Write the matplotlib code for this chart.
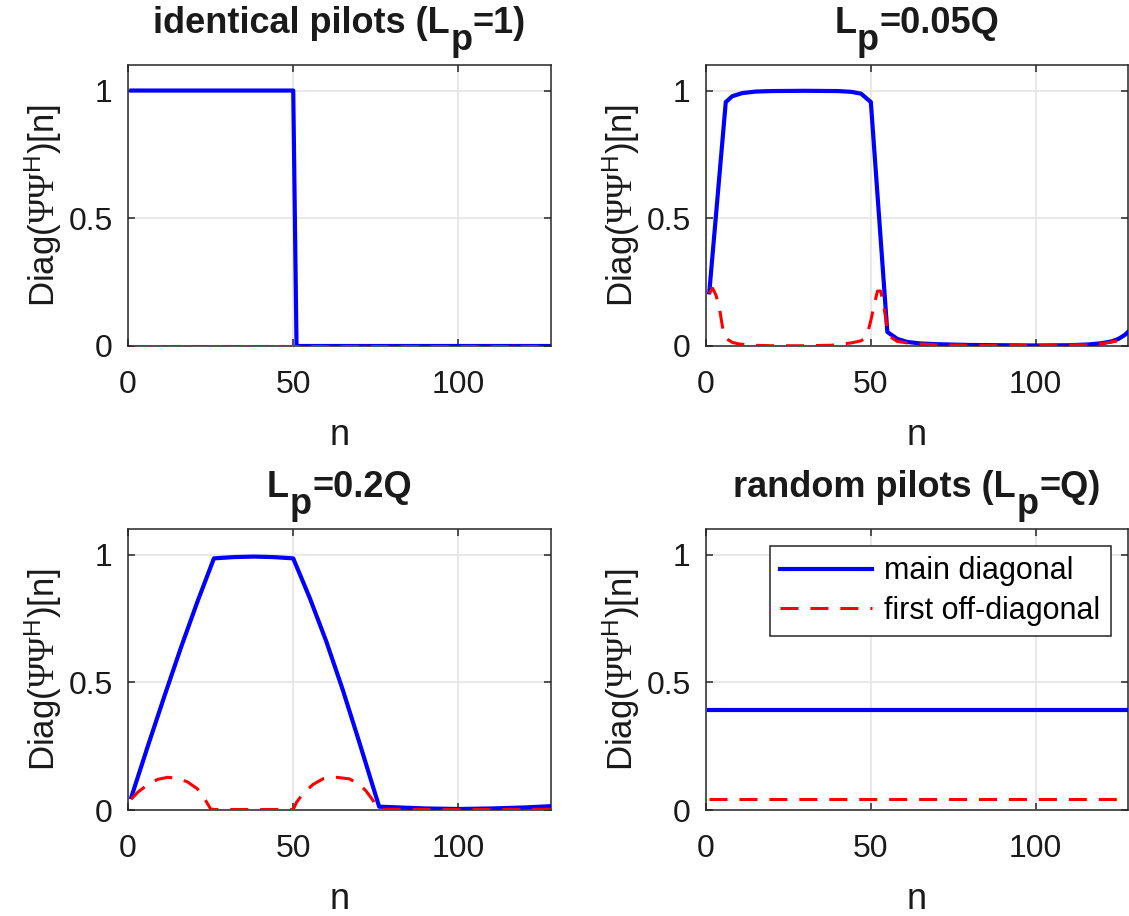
import matplotlib
matplotlib.use("Agg")
import matplotlib.pyplot as plt

plt.rcParams['font.family'] = ['Liberation Sans', 'DejaVu Sans']
plt.rcParams['mathtext.fontset'] = 'custom'
plt.rcParams['mathtext.rm'] = 'Liberation Serif'
plt.rcParams['mathtext.sf'] = 'Liberation Sans'
plt.rcParams['mathtext.bf'] = 'Liberation Sans:bold'
plt.rcParams['mathtext.it'] = 'Liberation Sans:italic'

# identical pilots (Lp = 1)
n_ident = [1, 50, 51, 128]
main_ident = [1, 1, 0, 0]
off_ident = [0, 0, 0, 0]

# Lp = 0.05Q
n_005 = [1, 6, 8, 11, 15, 20, 30, 40, 44, 47, 50, 55, 58, 61, 65, 70, 80, 90,
         100, 110, 116, 120, 123, 125, 127, 128]
main_005 = [0.21, 0.955, 0.978, 0.99, 0.996, 0.998, 0.999, 0.998, 0.995, 0.988,
            0.955, 0.055, 0.028, 0.016, 0.010, 0.007, 0.004, 0.003, 0.002, 0.003,
            0.006, 0.011, 0.018, 0.027, 0.043, 0.055]
n_005_off = [1, 2, 3, 4, 5, 6, 8, 10, 14, 20, 30, 38, 44, 47, 48, 49, 50, 51, 52,
             53, 54, 55, 56, 58, 61, 65, 70, 80, 100, 116, 120, 124, 128]
off_005 = [0.206, 0.226, 0.2, 0.154, 0.075, 0.03, 0.014, 0.008, 0.003, 0.001,
           0.001, 0.003, 0.012, 0.02, 0.029, 0.05, 0.1, 0.16, 0.215, 0.215, 0.15,
           0.07, 0.035, 0.018, 0.012, 0.008, 0.005, 0.003, 0.002, 0.005, 0.009,
           0.018, 0.03]

# Lp = 0.2Q
n_02 = [1, 6, 11, 16, 21, 26, 32, 38, 44, 50, 55, 60, 65, 70, 76, 90, 100, 110,
        120, 128]
main_02 = [0.05, 0.25, 0.445, 0.635, 0.815, 0.985, 0.99, 0.992, 0.99, 0.985,
           0.83, 0.66, 0.47, 0.265, 0.013, 0.006, 0.004, 0.006, 0.01, 0.015]
n_02_off = [1, 3, 6, 9, 12, 15, 18, 21, 23.5, 25, 26, 50, 51, 53, 56, 59, 63, 67,
            70, 72, 74, 75.5, 77, 90, 100, 110, 128]
off_02 = [0.043, 0.07, 0.10, 0.12, 0.128, 0.124, 0.11, 0.083, 0.037, 0.004,
          0.002, 0.002, 0.03, 0.065, 0.1, 0.122, 0.128, 0.122, 0.1, 0.075, 0.04,
          0.01, 0.003, 0.002, 0.002, 0.002, 0.003]

# random pilots (Lp = Q)
n_rand = [1, 128]
main_rand = [0.39, 0.39]
off_rand = [0.045, 0.045]

# title pieces: text before subscript, subscript, text after
titles = [('identical pilots (L', 'p', '=1)'), ('L', 'p', '=0.05Q'),
          ('L', 'p', '=0.2Q'), ('random pilots (L', 'p', '=Q)')]
panels = [(n_ident, main_ident, n_ident, off_ident),
          (n_005, main_005, n_005_off, off_005),
          (n_02, main_02, n_02_off, off_02),
          (n_rand, main_rand, n_rand, off_rand)]

W, H = 1129, 916
fig = plt.figure(figsize=(W / 100, H / 100), dpi=100)
# axes boxes in pixels: left, top, right, bottom
boxes = [(128, 65, 551, 346), (706, 65, 1128, 346),
         (128, 529, 551, 810), (706, 529, 1128, 810)]

fs = 22
tfs = 26
ink = '#1a1a1a'
title_parts = []
axes = []
for i, (l, t, r, b) in enumerate(boxes):
    ax = fig.add_axes([l / W, 1 - b / H, (r - l) / W, (b - t) / H])
    axes.append(ax)
    nm, ym, no, yo = panels[i]
    ax.plot(nm, ym, color='#0000ff', lw=3.0, label='main diagonal', zorder=3)
    ax.plot(no, yo, color='#ff0000', lw=2.2, dashes=(5.9, 3.9),
            label='first off-diagonal', zorder=4)
    ax.set_xlim(0, 128)
    ax.set_ylim(0, 1.1)
    ax.set_xticks([0, 50, 100])
    ax.set_yticks([0, 0.5, 1])
    ax.set_yticklabels(['0', '0.5', '1'])
    ax.grid(True, color='#e3e3e3', lw=1.1)
    ax.set_axisbelow(True)
    ax.tick_params(direction='in', top=True, right=True, length=5, width=1.1,
                   labelsize=23, colors='#262626', labelcolor=ink)
    ax.tick_params(axis='x', pad=17)
    ax.tick_params(axis='y', pad=11)
    for s in ax.spines.values():
        s.set_color('#262626')
        s.set_linewidth(1.1)
    ax.set_xlabel('n', fontsize=26, color=ink, labelpad=13)
    ax.set_ylabel(r'Diag($\mathrm{\Psi\Psi}^{\mathsf{H}}$)[n]', fontsize=25,
                  color=ink, labelpad=3)

    # title with a full-size lowered subscript, like the MATLAB one
    pre, sub, post = titles[i]
    y_base = 1 + 32 / (b - t)
    t1 = ax.text(0.5, y_base, pre, transform=ax.transAxes, fontsize=tfs,
                 fontweight='bold', color=ink, ha='left', va='baseline')
    t2 = ax.annotate(sub, xy=(1, 0), xycoords=t1, xytext=(0.5, -6.5),
                     textcoords='offset points', fontsize=tfs,
                     fontweight='bold', color=ink, ha='left', va='baseline')
    t3 = ax.annotate(post, xy=(1, 0), xycoords=(t2, t1), xytext=(0.5, 0),
                     textcoords='offset points', fontsize=tfs,
                     fontweight='bold', color=ink, ha='left', va='bottom')
    title_parts.append((t1, t2, t3))

    if i == 3:
        leg = ax.legend(loc='upper right', fontsize=fs, handlelength=3.0,
                        borderaxespad=0.55, fancybox=False, framealpha=1,
                        edgecolor='#262626', labelspacing=0.3,
                        handletextpad=0.4, borderpad=0.35)
        leg.get_frame().set_linewidth(1.1)

# centre the composed titles over their axes
fig.canvas.draw()
rend = fig.canvas.get_renderer()
for ax, (t1, t2, t3) in zip(axes, title_parts):
    x0 = t1.get_window_extent(rend).x0
    x1 = t3.get_window_extent(rend).x1
    abox = ax.get_window_extent(rend)
    shift = (abox.x0 + abox.x1) / 2 - (x0 + x1) / 2
    px, py = t1.get_position()
    t1.set_position((px + shift / abox.width, py))

fig.savefig('out.png', dpi=100)
